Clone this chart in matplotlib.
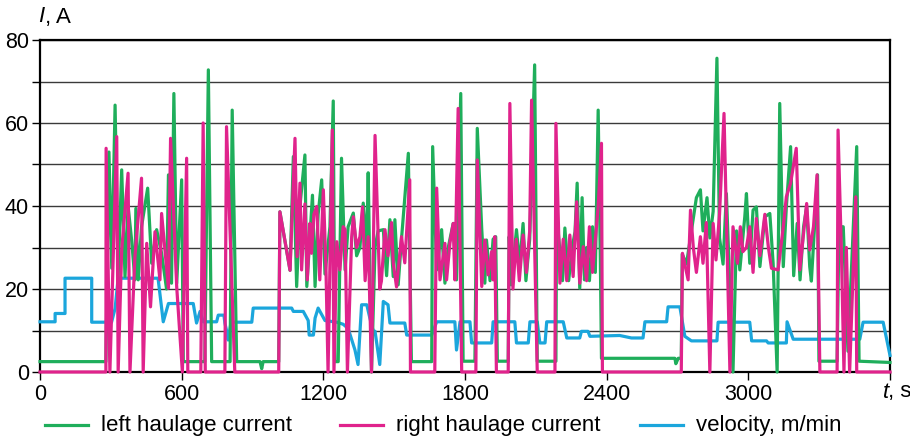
"""Haulage currents and velocity over one hour of shearer operation."""

import matplotlib

matplotlib.use("Agg")
import matplotlib.pyplot as plt
from matplotlib.lines import Line2D

plt.rcParams["font.family"] = ["Liberation Sans", "DejaVu Sans"]

# --- data (time in s, current in A, velocity in m/min) ---------------------
left_t = [0, 279, 292, 304, 318, 331, 346, 360, 373, 388, 402, 406, 416, 430, 456,
          473, 494, 515, 536, 544, 557, 567, 579, 600, 607, 698, 713, 727, 805, 814,
          833, 932, 939, 945, 1011, 1016, 1059, 1073, 1087, 1101, 1122, 1130, 1154,
          1165, 1178, 1193, 1207, 1228, 1242, 1249, 1263, 1277, 1292, 1305, 1327,
          1341, 1355, 1369, 1384, 1390, 1404, 1419, 1432, 1454, 1468, 1482, 1496,
          1503, 1517, 1531, 1560, 1573, 1659, 1663, 1680, 1701, 1715, 1729, 1750,
          1764, 1782, 1792, 1842, 1852, 1871, 1884, 1891, 1906, 1919, 1930, 1937,
          1983, 1987, 1996, 2018, 2032, 2046, 2058, 2074, 2095, 2106, 2185, 2188,
          2194, 2213, 2223, 2239, 2254, 2266, 2275, 2286, 2296, 2306, 2315, 2327,
          2340, 2352, 2364, 2373, 2378, 2689, 2693, 2703, 2716, 2720, 2738, 2759,
          2780, 2797, 2808, 2825, 2837, 2851, 2867, 2878, 2893, 2907, 2935, 2950,
          2964, 2985, 2992, 3006, 3020, 3034, 3049, 3070, 3091, 3105, 3122, 3133,
          3148, 3161, 3179, 3192, 3207, 3219, 3234, 3247, 3260, 3267, 3293, 3299,
          3376, 3384, 3402, 3422, 3459, 3469, 3600]
left_i = [2.5, 2.5, 53, 25, 64.3, 23, 48.7, 23, 40, 31.8, 22.2, 39.4, 22.2, 35, 44.3,
          26.2, 34.3, 28.6, 20, 47.5, 21.4, 67.1, 21.4, 46.3, 2.5, 2.5, 72.8, 2.5, 2.5, 63.1,
          2.5, 2.5, 0.8, 2.5, 2.5, 38.6, 24.5, 51.9, 20.6, 40, 52.3, 20.6, 42.6,
          20.6, 38, 46.3, 23.6, 35, 65.3, 2.5, 2.5, 51.5, 24.6, 35, 38.3,
          28, 30, 40.7, 30, 48, 0, 30, 34, 34.3, 23.2, 36.7, 23,
          36.7, 21, 32, 52.7, 2.5, 2.5, 54.3, 24.6, 34.3, 21.4, 30, 35.8,
          22.2, 67.1, 2.6, 2.6, 58.7, 34.3, 21.4, 31.8, 22, 32, 32.6, 2.6,
          2.6, 32.6, 21, 34.3, 26, 35.8, 22, 32, 74, 2.6, 2.6, 40,
          34.3, 22, 34.7, 22, 30, 33.8, 45.5, 20.2, 42, 22.2, 30, 22,
          35, 24, 63.1, 28, 3.3, 3.3, 2.0, 3.3, 3.3, 28.4, 26, 34,
          42, 43.9, 34, 42, 32.3, 38.7, 75.6, 32.3, 26, 43, 0, 34,
          24.6, 37.4, 43, 26.2, 39, 39.8, 25.4, 37.4, 38.2, 26.2, 0, 64.7,
          25.4, 39.8, 54.3, 23.2, 35.8, 22.2, 35, 39.8, 25.4, 21.9, 47.5, 2.6,
          2.6, 35, 35, 5, 54.3, 2.6, 2.3]

right_t = [0, 279, 280, 296, 325, 331, 346, 373, 381, 402, 430, 437, 452, 468, 487,
           508, 515, 544, 553, 579, 603, 621, 626, 681, 691, 700, 783, 790, 825,
           1011, 1016, 1059, 1080, 1089, 1101, 1108, 1122, 1132, 1143, 1150, 1160,
           1172, 1185, 1200, 1211, 1220, 1238, 1245, 1257, 1270, 1284, 1292, 1302,
           1320, 1327, 1341, 1355, 1366, 1377, 1390, 1404, 1419, 1439, 1446, 1461,
           1474, 1489, 1496, 1510, 1531, 1545, 1566, 1569, 1672, 1680, 1694, 1715,
           1722, 1736, 1750, 1757, 1771, 1786, 1846, 1852, 1871, 1884, 1898, 1913,
           1919, 1926, 1933, 1983, 1990, 2003, 2017, 2030, 2046, 2060, 2074, 2082,
           2106, 2181, 2185, 2202, 2216, 2231, 2244, 2258, 2273, 2286, 2301, 2315,
           2327, 2340, 2364, 2378, 2382, 2716, 2721, 2745, 2755, 2767, 2780, 2797,
           2808, 2822, 2837, 2851, 2863, 2878, 2897, 2922, 2935, 2954, 2966, 2977,
           2992, 3006, 3020, 3034, 3049, 3070, 3085, 3098, 3126, 3148, 3161, 3179,
           3203, 3218, 3247, 3260, 3276, 3291, 3303, 3376, 3380, 3394, 3405, 3415,
           3429, 3455, 3459, 3600]
right_i = [0, 0, 53.9, 0, 56.7, 0, 29.4, 47.9, 0, 27.8, 46.7, 0, 31, 15.7, 33.8,
           22.2, 38.2, 20.2, 56.3, 20.5, 0, 51.5, 0, 0, 60, 0, 0, 59.1, 0,
           0, 38.6, 24.5, 56.3, 27.8, 45.5, 24.6, 40.5, 22.2, 35.8, 28.6, 38,
           39.9, 22.2, 43.9, 25.4, 0, 58.3, 0, 31.4, 24.6, 35, 34.3, 0,
           32.6, 37.4, 30, 32.6, 39.8, 22, 32.6, 0, 57, 20, 21.9, 34.3,
           28, 36, 26.3, 20.5, 32.6, 26.3, 46.3, 0, 0, 44.3, 22.2, 31,
           22.2, 31, 35.8, 22.2, 63.5, 0, 0, 51.1, 20.6, 31.8, 23.4, 29,
           22.2, 32.6, 0, 0, 64.7, 20, 32, 22, 33, 24, 34, 65.5,
           0, 0, 59.9, 21.4, 32, 22, 33, 23, 41, 21.4, 30.2, 22,
           35, 24, 39.8, 55.1, 0, 0, 28.6, 22.2, 39, 30, 24, 32.6,
           26.2, 36, 0, 35.8, 27, 38, 62.3, 0, 35, 26.2, 35, 29,
           30, 35, 24, 37, 28, 38, 30, 25, 24.6, 35, 42.2, 45.5,
           53.9, 24.6, 40.6, 29.4, 35, 47.5, 0, 0, 58.3, 29.4, 0, 30,
           0, 42.2, 0, 0]

vel_t = [0, 64, 64, 106, 106, 219, 219, 303, 318, 331, 500, 522, 536, 544, 649, 663,
         678, 691, 748, 755, 779, 783, 790, 797, 809, 897, 903, 1066, 1073, 1115,
         1136, 1140, 1158, 1165, 1178, 1207, 1257, 1284, 1305, 1334, 1347, 1362,
         1384, 1397, 1411, 1419, 1439, 1454, 1474, 1482, 1545, 1553, 1659, 1680,
         1757, 1764, 1779, 1821, 1828, 1913, 1919, 2011, 2018, 2068, 2075, 2106,
         2117, 2139, 2146, 2216, 2231, 2286, 2293, 2321, 2329, 2455, 2505, 2554,
         2562, 2654, 2660, 2710, 2731, 2759, 2867, 2872, 3006, 3014, 3077, 3084,
         3161, 3164, 3190, 3472, 3486, 3571, 3600]
vel_v = [12.1, 12.1, 14.1, 14.1, 22.6, 22.6, 12, 12, 15.3, 22.6, 22.6, 12.1, 14.9, 16.5, 16.5, 11.8,
         14.6, 12.1, 12.1, 13.7, 13.7, 11.8, 10, 7.7, 12, 12, 15.4, 15.4, 14.6, 14.6,
         12.4, 8.9, 8.9, 13, 15.4, 12.4, 12, 11.5, 10.5, 5.3, 1.8, 16.2,
         16.2, 13, 10, 9.8, 1.8, 17, 16.2, 11.8, 11.8, 8.9, 8.9, 12.1,
         12.1, 5.3, 12.1, 12.1, 7, 7, 12.1, 12.1, 7, 7, 12.1, 12.1,
         7, 7, 12.1, 12.1, 8.2, 8.2, 9.8, 9.8, 8.6, 8.8, 8.2, 8.2,
         12.1, 12.1, 15.7, 15.7, 8.6, 7.5, 7.5, 12, 12, 7.5, 7.5, 7,
         7, 12.1, 7.9, 7.9, 12, 12, 4]

GREEN = "#1fae5b"
PINK = "#e0238c"
BLUE = "#1ba6dc"

fig = plt.figure(figsize=(9.1, 4.42), dpi=100)
ax = fig.add_axes([40 / 910, 1 - 372 / 442, 850 / 910, 332 / 442])

kw = dict(lw=2.3, clip_on=False, solid_joinstyle="round")
ax.plot(vel_t, vel_v, color=BLUE, zorder=3, **kw)
ax.plot(left_t, left_i, color=GREEN, zorder=4, **kw)
ax.plot(right_t, right_i, color=PINK, zorder=5, **kw)

ax.set_xlim(0, 3600)
ax.set_ylim(0, 80)
ax.set_xticks(range(0, 3601, 600))
ax.set_xticklabels(["0", "600", "1200", "1800", "2400", "3000", ""])
ax.set_yticks([0, 20, 40, 60, 80])
ax.set_yticks([10, 30, 50, 70], minor=True)
ax.grid(True, axis="y", which="both", color="#3a3a3a", lw=1.0, zorder=1)
ax.tick_params(axis="both", which="both", direction="out", length=6, width=1,
               labelsize=15.5, pad=2)
ax.tick_params(axis="x", pad=3)
for s in ax.spines.values():
    s.set_linewidth(1.6)
    s.set_zorder(2)

fig.text(38 / 910, 1 - 17 / 442, "I", style="italic", fontsize=16, va="center")
fig.text(45 / 910, 1 - 17 / 442, ", A", fontsize=16, va="center")
fig.text(883 / 910, 1 - 392 / 442, "t", style="italic", fontsize=16, va="center")
fig.text(888 / 910, 1 - 392 / 442, ", s", fontsize=16, va="center")

# legend drawn by hand so the three entries sit where the original has them
legend_colors = [GREEN, PINK, BLUE]
legend_labels = ["left haulage current", "right haulage current", "velocity, m/min"]
legend_x = [45, 340, 640]
ly = 1 - 425 / 442
for x0, c, lab in zip(legend_x, legend_colors, legend_labels):
    fig.add_artist(Line2D([x0 / 910, (x0 + 43) / 910], [ly, ly], color=c, lw=2.3,
                          transform=fig.transFigure))
    fig.text((x0 + 56) / 910, ly, lab, fontsize=16, va="center")

fig.savefig("out.png", dpi=100)
